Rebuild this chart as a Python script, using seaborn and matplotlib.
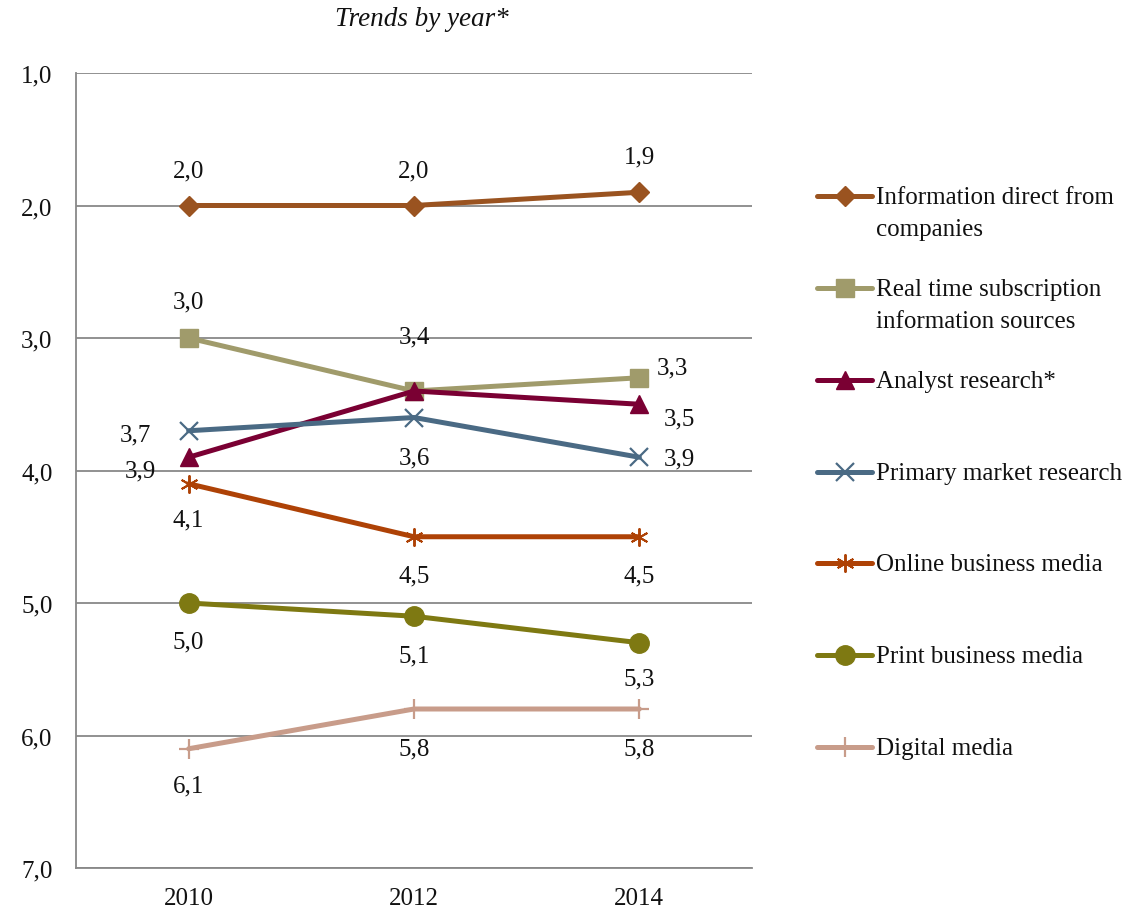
import numpy as np
import pandas as pd
import seaborn as sns
import matplotlib
matplotlib.use("Agg")
import matplotlib.pyplot as plt
from matplotlib.legend_handler import HandlerLine2D
from matplotlib.transforms import Affine2D
from matplotlib.ticker import FixedLocator, FuncFormatter

# ---- data -------------------------------------------------------------
years = ["2010", "2012", "2014"]
series_names = [
    "Information direct from companies",
    "Real time subscription information sources",
    "Analyst research*",
    "Primary market research",
    "Online business media",
    "Print business media",
    "Digital media",
]
legend_labels = [
    "Information direct from\ncompanies",
    "Real time subscription\ninformation sources",
    "Analyst research*\n",
    "Primary market research\n",
    "Online business media\n",
    "Print business media\n",
    "Digital media\n",
]
info_direct = [2.0, 2.0, 1.9]
real_time = [3.0, 3.4, 3.3]
analyst = [3.9, 3.4, 3.5]
primary = [3.7, 3.6, 3.9]
online = [4.1, 4.5, 4.5]
print_media = [5.0, 5.1, 5.3]
digital = [6.1, 5.8, 5.8]
values = [info_direct, real_time, analyst, primary, online, print_media, digital]

# ---- styling ----------------------------------------------------------
colors = ["#9A5320", "#A09B6B", "#7A0033", "#4A6A84", "#AE4206", "#7E7912", "#C89C8A"]
markers = ["D", "s", "^", "x", (6, 2, 0), "o", "+"]
msizes = [10, 13, 13, 13, 13, 14, 14]
mew = [1, 1, 1, 1.6, 1.4, 1, 1.6]

# label offsets in pixels (right, down); None = no label
label_offsets = [
    [(0, -35), (0, -35), (0, -36)],
    [(0, -37), (0, -55), (33, -10)],
    [(-48, 13), None, (40, 14)],
    [(-53, 4), (0, 40), (40, 1)],
    [(0, 36), (0, 39), (0, 39)],
    [(0, 38), (0, 39), (0, 36)],
    [(0, 37), (0, 39), (0, 39)],
]

sns.set_theme(style="white")
plt.rcParams["font.family"] = ["Liberation Serif", "DejaVu Serif"]

grid_col = "#888888"

df = pd.DataFrame(
    [(s, y, v) for s, vals in zip(series_names, values) for y, v in zip(years, vals)],
    columns=["series", "year", "score"],
)

fig = plt.figure(figsize=(11.45, 9.12), dpi=100)
ax = fig.add_axes([76 / 1145, 1 - 869 / 912, (752 - 76) / 1145, (869 - 74) / 912])

handles = []
for i, name in enumerate(series_names):
    sub = df[df["series"] == name]
    sns.lineplot(
        data=sub, x="year", y="score", ax=ax, color=colors[i], marker=markers[i],
        markersize=msizes[i], markeredgewidth=mew[i], markeredgecolor=colors[i],
        markerfacecolor=colors[i], linewidth=3.6, sort=False, legend=False,
    )
    handles.append(ax.lines[-1])

# value labels
px = 0.72
for i, vals in enumerate(values):
    for j, v in enumerate(vals):
        off = label_offsets[i][j]
        if off is None:
            continue
        ax.annotate(
            f"{v:.1f}".replace(".", ","), xy=(j, v), xytext=(off[0] * px, -off[1] * px),
            textcoords="offset points", ha="center", va="center", fontsize=18, color="#111111",
        )

# axes
ax.set_ylim(7, 1)
ax.set_xlim(-0.5, 2.5)
ax.yaxis.set_major_locator(FixedLocator([1, 2, 3, 4, 5, 6, 7]))
ax.yaxis.set_major_formatter(FuncFormatter(lambda v, p: f"{v:.1f}".replace(".", ",")))
ax.xaxis.set_minor_locator(FixedLocator([-0.5, 0.5, 1.5, 2.5]))
ax.tick_params(axis="x", which="major", length=0, pad=14, labelsize=18, colors="#111111")
ax.tick_params(axis="x", which="minor", length=8, width=1.2, color=grid_col, direction="out")
ax.tick_params(axis="y", which="major", length=8, width=1.2, color=grid_col, direction="out",
               pad=9, labelsize=18, labelcolor="#111111")
ax.grid(axis="y", color=grid_col, linewidth=1.3)
ax.set_axisbelow(True)
for s in ["top", "right"]:
    ax.spines[s].set_visible(False)
for s in ["left", "bottom"]:
    ax.spines[s].set_color(grid_col)
    ax.spines[s].set_linewidth(1.3)
ax.set_xlabel("")
ax.set_ylabel("")

fig.text(422 / 1145, 1 - 20 / 912, "Trends by year*", ha="center", va="center",
         fontsize=19.5, style="italic", color="#111111")


class FirstLineHandler(HandlerLine2D):
    """Legend key aligned with the first line of a two-line label."""

    def __init__(self, shift, **kw):
        super().__init__(**kw)
        self.shift = shift

    def create_artists(self, legend, orig_handle, xdescent, ydescent, width, height,
                       fontsize, trans):
        trans = Affine2D().translate(0, self.shift) + trans
        return super().create_artists(legend, orig_handle, xdescent, ydescent, width,
                                      height, fontsize, trans)


leg_fs = 18
hm = {h: FirstLineHandler(shift=17 * px) for h in handles}
leg = fig.legend(
    handles, legend_labels, loc="upper left", bbox_to_anchor=(817 / 1145, 1 - 187 / 912),
    frameon=False, fontsize=leg_fs, handlelength=2.2, handletextpad=0.15,
    labelspacing=1.5, borderpad=0, borderaxespad=0, handler_map=hm,
)
for t in leg.get_texts():
    t.set_color("#111111")
    t.set_linespacing(1.61)

fig.savefig("out.png", dpi=100)
